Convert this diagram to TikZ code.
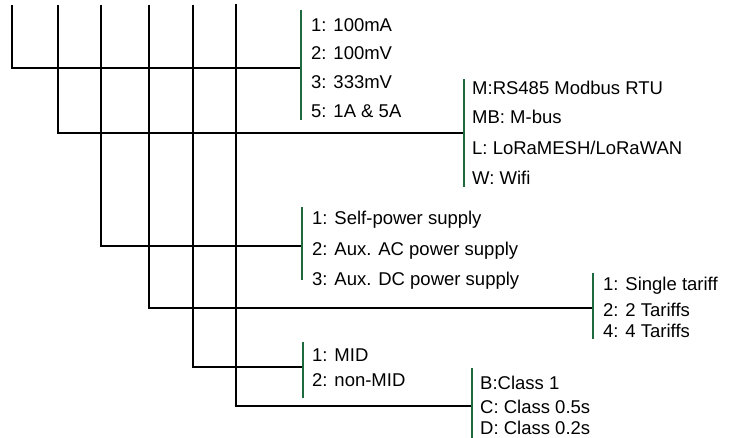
\documentclass[tikz,border=0pt]{standalone}
\usepackage{fontspec}
\setmainfont{Liberation Sans}
\usepackage{tikz}
\usetikzlibrary{positioning}
\definecolor{bargreen}{RGB}{30,105,62}

\tikzset{
  wire/.style={line width=2pt, black},
  bar/.style={line width=2.4pt, bargreen},
  opt/.style={inner sep=0pt, text height=13pt, text depth=0pt,
    font=\fontsize{18.5}{22}\selectfont},
}

\begin{document}
\begin{tikzpicture}[x=1pt,y=-1pt]
  \useasboundingbox (0,0) rectangle (737,438);
  % top ends of the six code positions
  \coordinate (d1) at (12,5);
  \coordinate (d2) at (58,5);
  \coordinate (d3) at (101,5);
  \coordinate (d4) at (149,5);
  \coordinate (d5) at (193,5);
  \coordinate (d6) at (236,4);

  % input
  \coordinate (in top) at (301,10);
  \coordinate (in bot) at (301,120);
  \coordinate (in) at (301,68);
  \node[opt, anchor=west] (ma) at (311,25) {1: 100mA};
  \node[opt, below right=15pt and 0pt of ma.south west] (mv) {2: 100mV};
  \node[opt, below right=15pt and 0pt of mv.south west] (mvb) {3: 333mV};
  \node[opt, below right=16pt and 0pt of mvb.south west] (amp) {5: 1A \& 5A};

  % communication
  \coordinate (com top) at (464,79);
  \coordinate (com bot) at (464,187);
  \coordinate (com) at (464,133);
  \node[opt, anchor=west] (rs) at (472,88) {M:RS485 Modbus RTU};
  \node[opt, below right=16pt and 0pt of rs.south west] (mbus) {MB: M-bus};
  \node[opt, below right=17pt and 0pt of mbus.south west] (lora) {L: LoRaMESH/LoRaWAN};
  \node[opt, below right=17pt and 0pt of lora.south west] (wifi) {W: Wifi};

  % power supply
  \coordinate (pow top) at (302,207);
  \coordinate (pow bot) at (302,280);
  \coordinate (pow) at (302,246);
  \node[opt, anchor=west] (self) at (312,218) {1: Self-power supply};
  \node[opt, below right=18pt and 0pt of self.south west] (ac) {2: Aux. AC power supply};
  \node[opt, below right=16pt and 0pt of ac.south west] (dc) {3: Aux. DC power supply};

  % tariffs
  \coordinate (tar top) at (593,273);
  \coordinate (tar bot) at (593,339);
  \coordinate (tar) at (593,308);
  \node[opt, anchor=west] (single) at (603,284) {1: Single tariff};
  \node[opt, below right=13pt and 0pt of single.south west] (two) {2: 2 Tariffs};
  \node[opt, below right=7pt and 0pt of two.south west] (four) {4: 4 Tariffs};

  % approval
  \coordinate (mid top) at (303,342);
  \coordinate (mid bot) at (303,398);
  \coordinate (mid) at (303,367);
  \node[opt, anchor=west] (yes) at (312,355) {1: MID};
  \node[opt, below right=12pt and 0pt of yes.south west] (no) {2: non-MID};

  % accuracy
  \coordinate (cls top) at (472,368);
  \coordinate (cls bot) at (472,438);
  \coordinate (cls) at (472,406);
  \node[opt, anchor=west] (one) at (480,383) {B:Class 1};
  \node[opt, below right=11pt and 0pt of one.south west] (half) {C: Class 0.5s};
  \node[opt, below right=7.5pt and 0pt of half.south west] (fifth) {D: Class 0.2s};

  \draw[wire] (d1) |- (in);
  \draw[wire] (d2) |- (com);
  \draw[wire] (d3) |- (pow);
  \draw[wire] (d4) |- (tar);
  \draw[wire] (d5) |- (mid);
  \draw[wire] (d6) |- (cls);

  \draw[bar] (in top) -- (in bot);
  \draw[bar] (com top) -- (com bot);
  \draw[bar] (pow top) -- (pow bot);
  \draw[bar] (tar top) -- (tar bot);
  \draw[bar] (mid top) -- (mid bot);
  \draw[bar] (cls top) -- (cls bot);
\end{tikzpicture}
\end{document}
